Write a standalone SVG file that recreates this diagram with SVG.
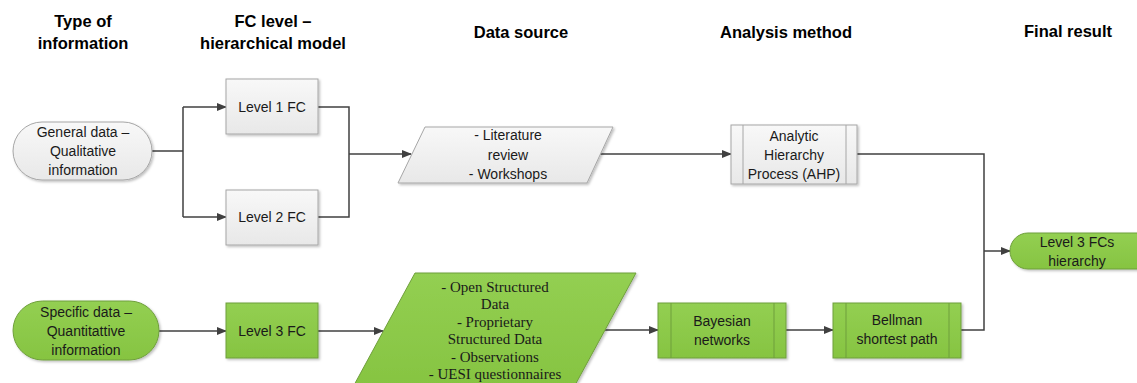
<svg xmlns="http://www.w3.org/2000/svg" width="1137" height="383" viewBox="0 0 1137 383">
<defs>
<linearGradient id="gGray" x1="0" y1="0" x2="0" y2="1"><stop offset="0" stop-color="#f8f8f8"/><stop offset="1" stop-color="#e8e8e8"/></linearGradient>
<linearGradient id="gGreen" x1="0" y1="0" x2="0" y2="1"><stop offset="0" stop-color="#93cf52"/><stop offset="1" stop-color="#86c441"/></linearGradient>
<filter id="sh" x="-10%" y="-10%" width="130%" height="130%"><feDropShadow dx="1.5" dy="1.5" stdDeviation="1" flood-color="#000" flood-opacity="0.25"/></filter>
<marker id="ah" markerWidth="10" markerHeight="8" refX="9" refY="4" orient="auto" markerUnits="userSpaceOnUse"><path d="M0,0 L10,4 L0,8 Z" fill="#404040"/></marker>
</defs>
<style>
.hdr{font-family:"Liberation Sans",Arial,sans-serif;font-weight:bold;font-size:16.5px;fill:#000;text-anchor:middle}
.t{font-family:"Liberation Sans",Arial,sans-serif;font-size:14px;fill:#1a1a1a;text-anchor:middle}
.s{font-family:"Liberation Serif","Times New Roman",serif;font-size:15px;fill:#1a1a1a;text-anchor:middle}
.gray{fill:url(#gGray);stroke:#a6a6a6;stroke-width:1;filter:url(#sh)}
.green{fill:url(#gGreen);stroke:#6f9f3c;stroke-width:1;filter:url(#sh)}
.inl{stroke:#a6a6a6;stroke-width:1}
.ing{stroke:#6f9f3c;stroke-width:1}
.c{fill:none;stroke:#404040;stroke-width:1.5}
.ca{fill:none;stroke:#404040;stroke-width:1.5;marker-end:url(#ah)}
</style>
<rect width="1137" height="383" fill="#fff"/>
<g id="headers">
<text class="hdr" x="83" y="27">Type of</text>
<text class="hdr" x="83" y="49">information</text>
<text class="hdr" x="273" y="27">FC level –</text>
<text class="hdr" x="273" y="49">hierarchical model</text>
<text class="hdr" x="521" y="38">Data source</text>
<text class="hdr" x="786" y="38">Analysis method</text>
<text class="hdr" x="1068" y="37">Final result</text>
</g>
<g id="connectors">
<path class="c" d="M152,151 H183 M183,107 V217"/>
<path class="ca" d="M183,107 H226"/>
<path class="ca" d="M183,217 H226"/>
<path class="c" d="M318,107 H349 V217 H318"/>
<path class="ca" d="M349,154 H411"/>
<path class="ca" d="M600,154 H731"/>
<path class="c" d="M857,154 H984 V330 H961"/>
<path class="ca" d="M984,251 H1010"/>
<path class="ca" d="M159,331 H226"/>
<path class="ca" d="M318,331 H383"/>
<path class="ca" d="M605,330 H658"/>
<path class="ca" d="M786,330 H833"/>
</g>
<g id="general-data">
<rect class="gray" x="13" y="122" width="139" height="58" rx="29" ry="29"/>
<text class="t" x="83" y="137">General data –</text>
<text class="t" x="83" y="156">Qualitative</text>
<text class="t" x="83" y="175">information</text>
</g>
<g id="level1">
<rect class="gray" x="226" y="79" width="92" height="55"/>
<text class="t" x="272" y="112">Level 1 FC</text>
</g>
<g id="level2">
<rect class="gray" x="226" y="190" width="92" height="55"/>
<text class="t" x="272" y="222">Level 2 FC</text>
</g>
<g id="lit">
<polygon class="gray" points="425,127 613,127 587,183 398,183"/>
<text class="t" x="508" y="140">- Literature</text>
<text class="t" x="508" y="160">review</text>
<text class="t" x="508" y="179">- Workshops</text>
</g>
<g id="ahp">
<rect class="gray" x="731" y="125" width="126" height="59"/>
<line class="inl" x1="743" y1="125" x2="743" y2="184"/>
<line class="inl" x1="846" y1="125" x2="846" y2="184"/>
<text class="t" x="794" y="141">Analytic</text>
<text class="t" x="794" y="160">Hierarchy</text>
<text class="t" x="794" y="179">Process (AHP)</text>
</g>
<g id="final">
<rect class="green" x="1010" y="233" width="150" height="36" rx="18" ry="18"/>
<text class="t" x="1077" y="247">Level 3 FCs</text>
<text class="t" x="1077" y="266">hierarchy</text>
</g>
<g id="specific-data">
<rect class="green" x="13" y="301" width="146" height="59" rx="29.5" ry="29.5"/>
<text class="t" x="86" y="317">Specific data –</text>
<text class="t" x="86" y="336">Quantitattive</text>
<text class="t" x="86" y="355">information</text>
</g>
<g id="level3">
<rect class="green" x="226" y="303" width="92" height="55"/>
<text class="t" x="272" y="336">Level 3 FC</text>
</g>
<g id="data-sources">
<polygon class="green" points="415,273 636,273 574,387 353,387"/>
<text class="s" x="495" y="292">- Open Structured</text>
<text class="s" x="495" y="309">Data</text>
<text class="s" x="495" y="327">- Proprietary</text>
<text class="s" x="495" y="344">Structured Data</text>
<text class="s" x="495" y="362">- Observations</text>
<text class="s" x="495" y="379">- UESI questionnaires</text>
</g>
<g id="bayesian">
<rect class="green" x="658" y="303" width="128" height="55"/>
<line class="ing" x1="671" y1="303" x2="671" y2="358"/>
<line class="ing" x1="774" y1="303" x2="774" y2="358"/>
<text class="t" x="722" y="326">Bayesian</text>
<text class="t" x="722" y="345">networks</text>
</g>
<g id="bellman">
<rect class="green" x="833" y="303" width="128" height="55"/>
<line class="ing" x1="846" y1="303" x2="846" y2="358"/>
<line class="ing" x1="949" y1="303" x2="949" y2="358"/>
<text class="t" x="897" y="325">Bellman</text>
<text class="t" x="897" y="344">shortest path</text>
</g>
</svg>
